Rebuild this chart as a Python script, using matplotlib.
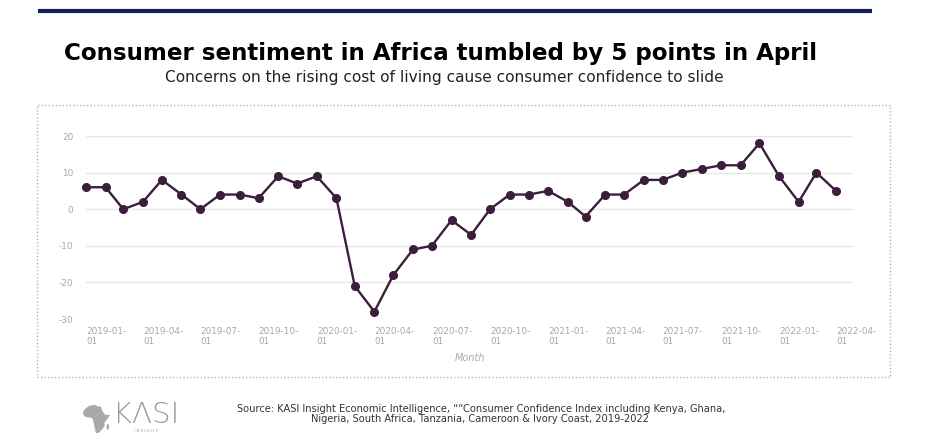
import matplotlib
matplotlib.use("Agg")
import matplotlib.pyplot as plt
import matplotlib.patches as patches
import matplotlib.dates as mdates
import numpy as np

# Datos del índice (mensual, 2019-01 a 2022-04)
months = np.arange(np.datetime64("2019-01"), np.datetime64("2022-05"),
                   np.timedelta64(1, "M")).astype("datetime64[D]")
sentiment = [6, 6, 0, 2, 8, 4, 0, 4, 4, 3, 9, 7,
             9, 3, -21, -28, -18, -11, -10, -3, -7, 0, 4, 4,
             5, 2, -2, 4, 4, 8, 8, 10, 11, 12, 12, 18,
             9, 2, 10, 5]
tick_dates = np.arange(np.datetime64("2019-01"), np.datetime64("2022-05"),
                       np.timedelta64(3, "M")).astype("datetime64[D]")
y_ticks = [-30, -20, -10, 0, 10, 20]

title = "Consumer sentiment in Africa tumbled by 5 points in April"
subtitle = "Concerns on the rising cost of living cause consumer confidence to slide"
source_lines = [
    "Source: KASI Insight Economic Intelligence, \u201c\u201cConsumer Confidence Index including Kenya, Ghana,",
    "Nigeria, South Africa, Tanzania, Cameroon & Ivory Coast, 2019-2022",
]

W, H = 925, 444
fig = plt.figure(figsize=(W / 100, H / 100), dpi=100)
fig.patch.set_facecolor("white")


def px(x, y):
    # pixel -> coordenadas de figura
    return x / W, 1 - y / H


grey = "#a8a8a8"
line_col = "#3b1d3c"

# ejes del gráfico
left, right = 86, 853
top, bottom = 136, 319
ax = fig.add_axes([left / W, 1 - bottom / H, (right - left) / W, (bottom - top) / H])
ax.plot(months, sentiment, color=line_col, lw=1.7, marker="o", ms=5.5,
        mfc=line_col, mec=line_col, clip_on=False, zorder=3)

x0 = mdates.date2num(months[0])
x_last = mdates.date2num(months[-1])
step = (x_last - x0) / (len(months) - 1)
ax.set_xlim(x0, x_last + step * (right - 836) / 19.23)
ax.set_ylim(-30, 20)
ax.set_yticks(y_ticks)
ax.set_yticklabels([str(v) for v in y_ticks], fontsize=6.4, color=grey)
ax.set_xticks(mdates.date2num(tick_dates))
ax.set_xticklabels([str(d)[:8] + "\n" + str(d)[8:] for d in tick_dates],
                   fontsize=6.4, color=grey, ha="left", linespacing=1.15)
ax.tick_params(axis="both", length=0)
ax.tick_params(axis="y", pad=9)
ax.tick_params(axis="x", pad=6)
ax.grid(axis="y", color="#e8e8e8", lw=1)
ax.set_axisbelow(True)
for s in ax.spines.values():
    s.set_visible(False)

fig.text(*px(470, 358), "Month", fontsize=7, style="italic", color=grey,
         ha="center", va="center")

# marco punteado
bx0, by0, bx1, by1 = 37, 105, 890, 377
fig.patches.append(patches.Rectangle(px(bx0, by1), (bx1 - bx0) / W, (by1 - by0) / H,
                                     transform=fig.transFigure, fill=False,
                                     ec="#b5b5b5", lw=1, ls=(0, (1, 1.5))))

# línea superior
fig.add_artist(plt.Line2D([38 / W, 872 / W], [1 - 11 / H] * 2, color="#13215a",
                          lw=3, transform=fig.transFigure, solid_capstyle="butt"))

renderer = fig.canvas.get_renderer()


def fit_text(xc, yb, txt, width, size, **kw):
    t = fig.text(*px(xc, yb), txt, fontsize=size, ha="center", **kw)
    w = t.get_window_extent(renderer).width
    t.set_fontsize(size * width / w)
    return t


fit_text(440, 60, title, 756, 16, fontweight="bold", va="baseline", color="black")
fit_text(444, 82, subtitle, 560, 11, va="baseline", color="#222222")
fit_text(481, 409, source_lines[0], 493, 7, va="center", color="#333333")
fit_text(480, 419, source_lines[1], 341, 7, va="center", color="#333333")

# logo KASI (silueta aproximada de África)
africa = np.array([(0.10, 0.12), (0.25, 0.02), (0.45, 0.0), (0.58, 0.06), (0.66, 0.05),
                   (0.72, 0.22), (0.82, 0.35), (1.0, 0.35), (0.92, 0.48), (0.80, 0.62),
                   (0.80, 0.75), (0.70, 0.88), (0.58, 1.0), (0.48, 1.0), (0.44, 0.85),
                   (0.40, 0.65), (0.36, 0.50), (0.30, 0.45), (0.18, 0.45), (0.05, 0.40),
                   (0.0, 0.30), (0.03, 0.20)])
ax0, ay0, aw, ah = 83, 405, 27, 28
pts = [px(ax0 + u * aw, ay0 + v * ah) for u, v in africa]
fig.patches.append(patches.Polygon(pts, closed=True, transform=fig.transFigure,
                                   fc="#a9a9a9", ec="none"))
fig.patches.append(patches.Ellipse(px(ax0 + 0.92 * aw, ay0 + 0.78 * ah), 2.5 / W, 6 / H,
                                   transform=fig.transFigure, fc="#a9a9a9", ec="none"))
k = fig.text(*px(146, 415), "K\u039bSI", fontsize=12, fontweight="light", color="#9a9a9a",
             ha="center", va="center", family="DejaVu Sans")
kw = k.get_window_extent(renderer).width
k.set_fontsize(12 * 66 / kw)
fig.text(*px(146, 431), "I N S I G H T", fontsize=2.8, color="#9a9a9a",
         ha="center", va="center")

fig.savefig("out.png", dpi=100, facecolor="white")
